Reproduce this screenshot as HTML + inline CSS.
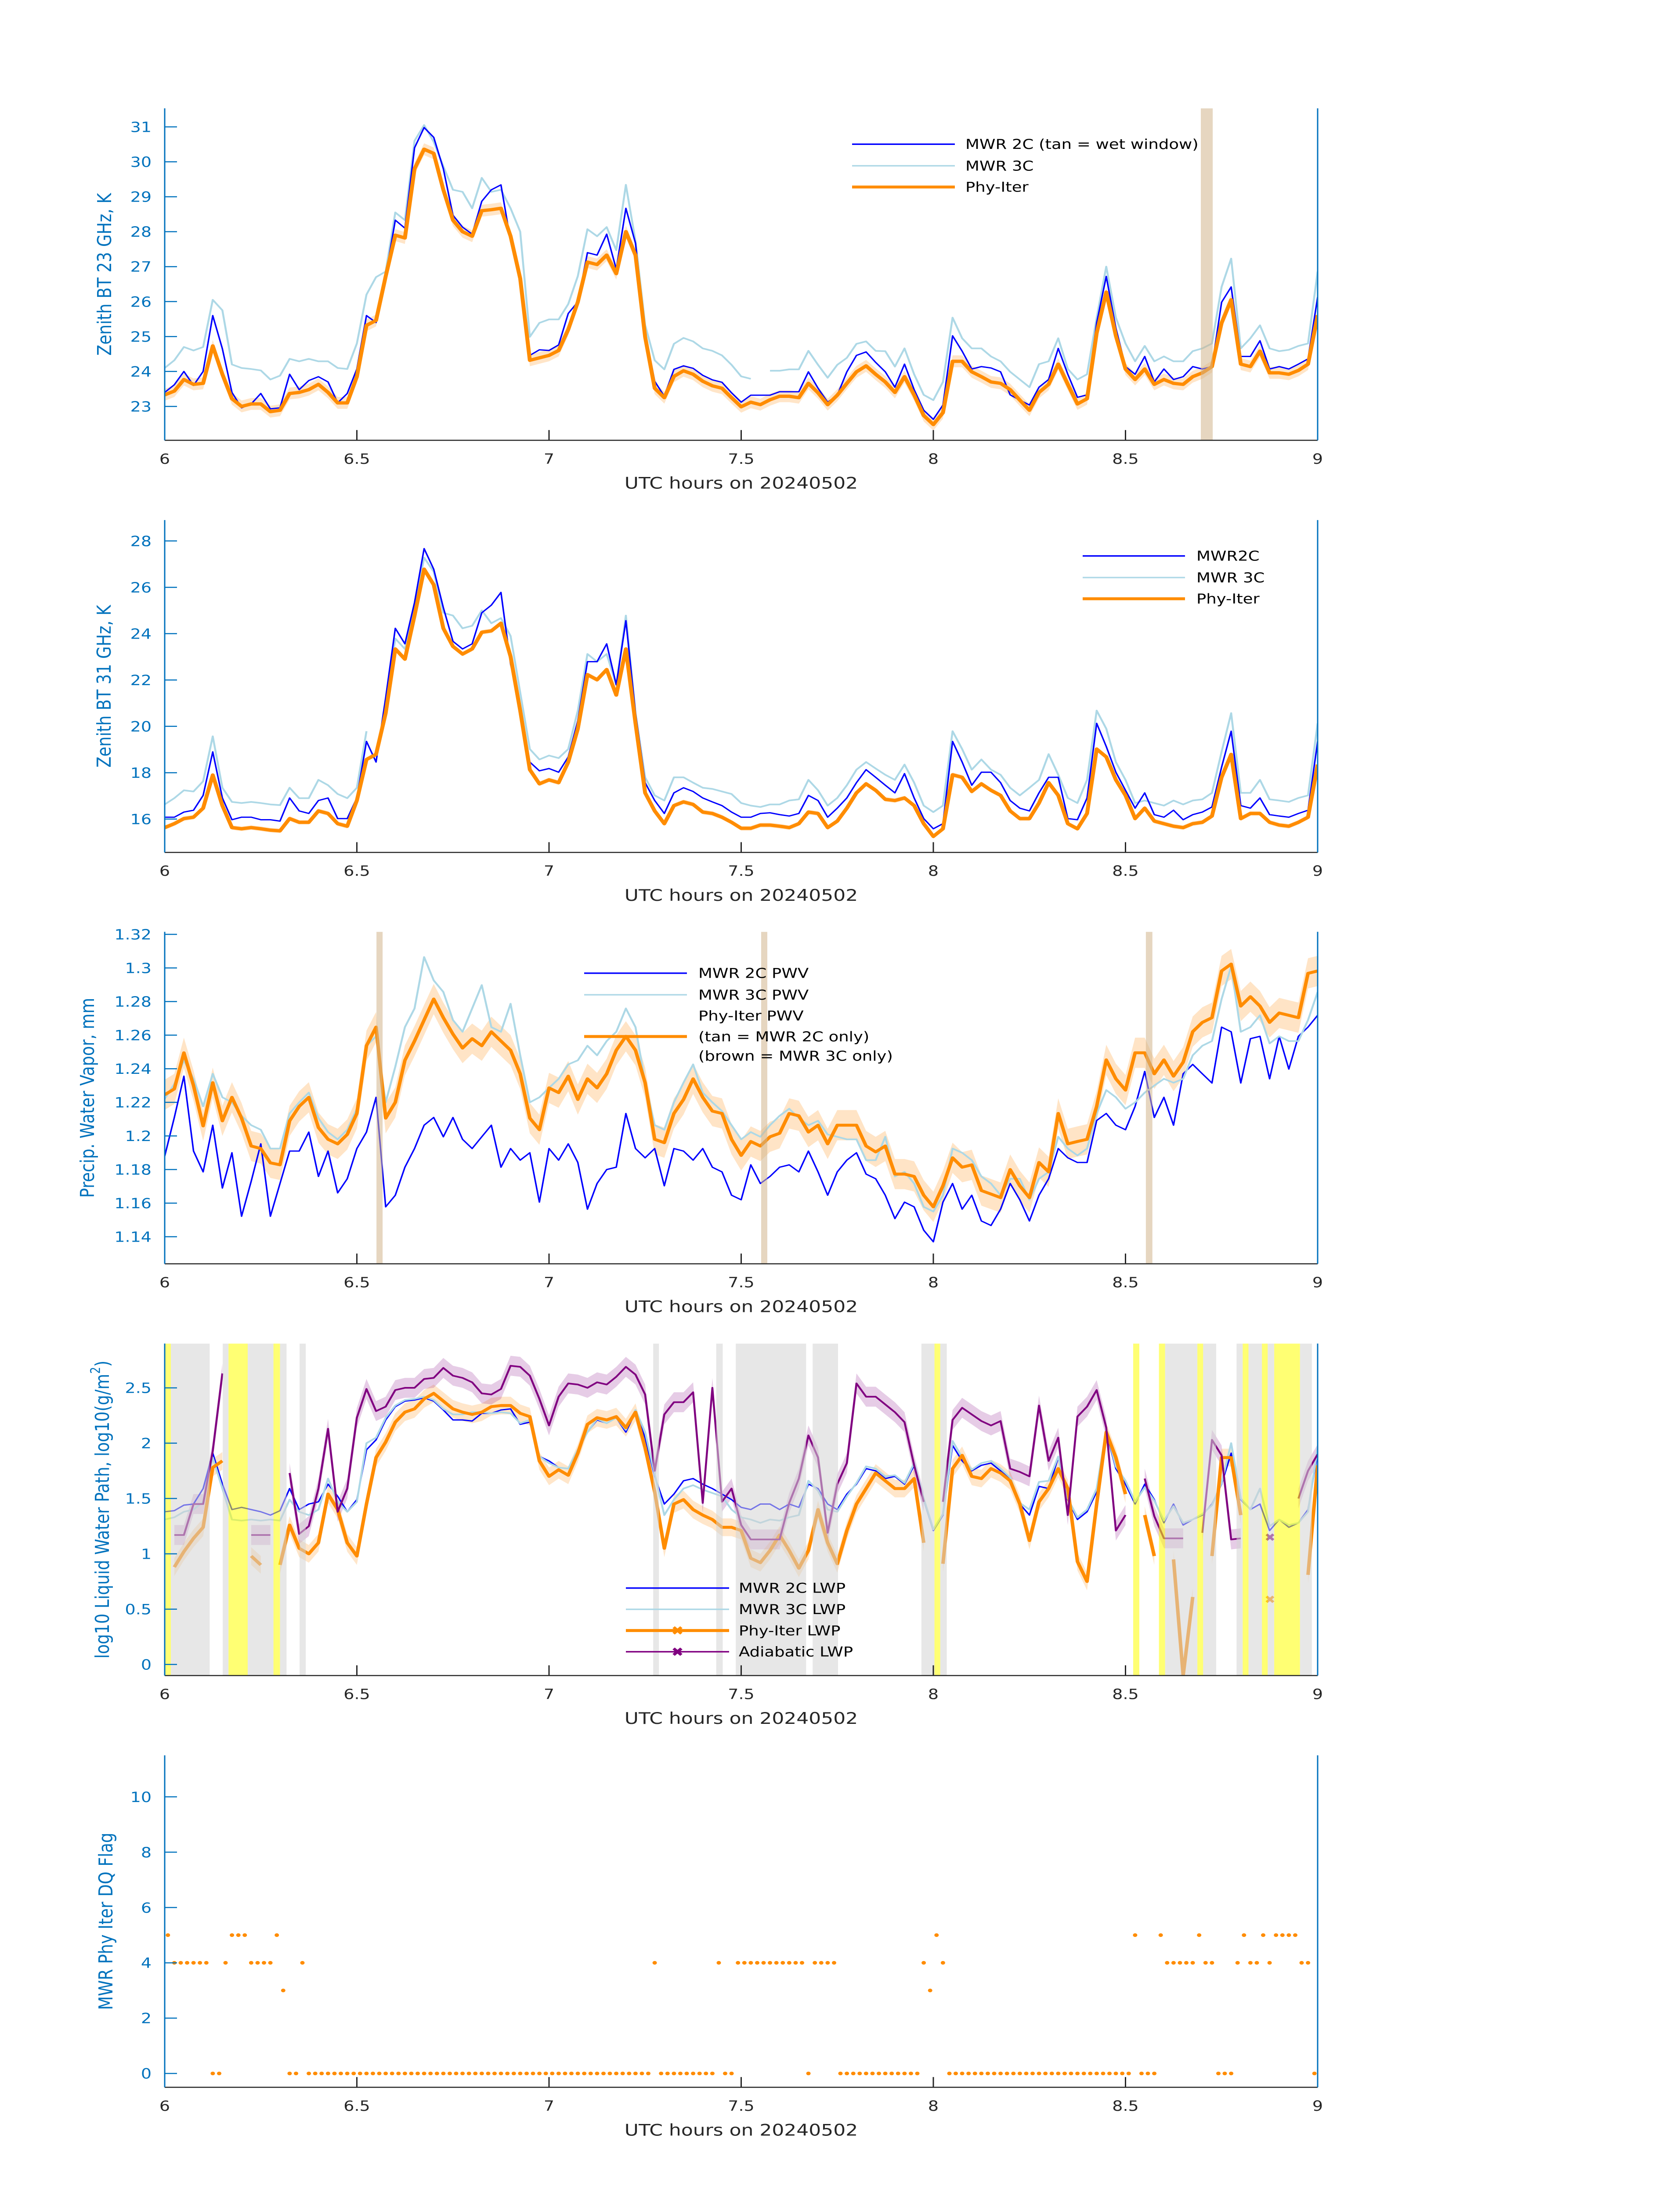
<!DOCTYPE html>
<html><head><meta charset="utf-8"><style>
html,body{margin:0;padding:0;background:#fff;width:100%;height:100%;overflow:hidden;}
svg{display:block;width:100vw;height:100vh;font-family:"DejaVu Sans","Liberation Sans",sans-serif;}
</style></head><body>
<svg id="fig" viewBox="0 0 3825 6000" preserveAspectRatio="none" xmlns="http://www.w3.org/2000/svg">
<rect width="3825" height="6000" fill="#fff"/>
<defs>
<clipPath id="c1"><rect x="375" y="296" width="2625" height="907"/></clipPath>
<clipPath id="c2"><rect x="375" y="1421" width="2625" height="908"/></clipPath>
<clipPath id="c3"><rect x="375" y="2546" width="2625" height="907"/></clipPath>
<clipPath id="c4"><rect x="375" y="3671" width="2625" height="907"/></clipPath>
<clipPath id="c5"><rect x="365" y="4796" width="2650" height="907"/></clipPath>
</defs>
<g id="root"></g>
</svg>
<script>
// ---- data: sample grid is 6.000 h + index*0.025 h (121 samples) ----
const t0 = 6.0;
const dt = 0.025;
const xTickLabels = ["6","6.5","7","7.5","8","8.5","9"];
const xTickValues = [6,6.5,7,7.5,8,8.5,9];

// Panel 1: 23 GHz BT (K)
const bt23Phy = [23.33,23.44,23.77,23.63,23.66,24.73,23.92,23.22,23.00,23.07,
23.07,22.85,22.89,23.37,23.40,23.48,23.63,23.40,23.10,23.10,
23.85,25.32,25.46,26.72,27.90,27.82,29.80,30.36,30.24,29.20,
28.33,28.00,27.87,28.60,28.63,28.67,27.87,26.66,24.32,24.39,
24.46,24.60,25.20,25.99,27.13,27.06,27.33,26.80,28.00,27.33,
24.99,23.52,23.25,23.86,24.02,23.92,23.72,23.59,23.52,23.25,
22.99,23.12,23.05,23.19,23.29,23.29,23.25,23.66,23.39,23.05,
23.32,23.66,23.99,24.16,23.92,23.70,23.40,23.85,23.33,22.74,
22.48,22.82,24.29,24.29,23.99,23.85,23.70,23.66,23.48,23.18,
22.89,23.40,23.63,24.21,23.63,23.07,23.22,25.10,26.27,25.02,
24.07,23.77,24.07,23.63,23.77,23.66,23.63,23.85,23.96,24.14,
25.39,26.05,24.21,24.14,24.58,23.96,23.96,23.92,24.03,24.21,25.61];
const bt23Mwr2c = [23.40,23.62,24.00,23.60,24.00,25.60,24.65,23.40,22.96,23.07,
23.37,22.93,22.96,23.92,23.48,23.74,23.85,23.70,23.10,23.37,
24.07,25.60,25.40,26.72,28.33,28.10,30.40,30.98,30.70,29.80,
28.47,28.13,27.93,28.87,29.20,29.34,27.73,26.66,24.46,24.62,
24.60,24.76,25.66,25.99,27.40,27.33,27.93,26.93,28.67,27.67,
25.13,23.72,23.29,24.06,24.16,24.09,23.89,23.76,23.69,23.39,
23.12,23.32,23.32,23.32,23.42,23.42,23.42,23.99,23.52,23.12,
23.32,23.99,24.46,24.56,24.26,23.99,23.55,24.21,23.48,22.89,
22.63,23.04,25.02,24.58,24.07,24.14,24.10,23.99,23.33,23.18,
23.04,23.55,23.77,24.66,23.92,23.26,23.33,25.39,26.72,25.24,
24.14,23.92,24.43,23.70,24.07,23.77,23.85,24.14,24.07,24.14,
25.98,26.42,24.43,24.43,24.88,24.07,24.14,24.07,24.21,24.36,26.13];
const bt23Mwr3c = [24.10,24.32,24.70,24.60,24.70,26.05,25.75,24.20,24.10,24.07,
24.03,23.77,23.88,24.36,24.29,24.36,24.29,24.29,24.10,24.07,
24.80,26.20,26.70,26.86,28.55,28.33,30.60,31.05,30.57,29.87,
29.20,29.14,28.67,29.54,29.14,29.20,28.67,28.00,24.99,25.39,
25.49,25.49,25.93,26.73,28.07,27.87,28.13,27.47,29.34,27.73,
25.33,24.32,24.06,24.79,24.96,24.86,24.66,24.59,24.46,24.19,
23.86,23.79,null,24.02,24.02,24.06,24.06,24.59,24.19,23.82,
24.19,24.39,24.79,24.86,24.59,24.58,24.14,24.66,23.92,23.33,
23.18,23.70,25.54,24.95,24.66,24.66,24.43,24.29,23.99,23.77,
23.55,24.21,24.29,24.95,24.07,23.77,23.92,25.54,27.00,25.54,
24.80,24.29,24.73,24.29,24.43,24.29,24.29,24.58,24.66,24.80,
26.42,27.23,24.66,24.95,25.32,24.66,24.58,24.62,24.73,24.80,26.86];

// Panel 2: 31 GHz BT (K)
const bt31Phy = [15.63,15.80,16.02,16.08,16.47,17.90,16.58,15.63,15.58,15.63,
15.58,15.52,15.49,16.02,15.86,15.86,16.35,16.24,15.80,15.69,
16.80,18.57,18.79,20.57,23.34,22.90,24.78,26.78,26.11,24.23,
23.45,23.12,23.34,24.06,24.12,24.45,23.01,20.68,18.13,17.52,
17.69,17.57,18.46,19.90,22.23,22.01,22.45,21.35,23.34,20.13,
17.13,16.35,15.80,16.58,16.74,16.63,16.30,16.24,16.08,15.86,
15.60,15.60,15.74,15.74,15.69,15.63,15.80,16.30,16.24,15.63,
15.91,16.47,17.13,17.52,17.24,16.85,16.80,16.91,16.58,15.80,
15.25,15.58,17.91,17.80,17.19,17.52,17.24,17.02,16.35,16.02,
16.02,16.69,17.57,17.02,15.80,15.58,16.24,19.02,18.68,17.69,
17.02,16.02,16.47,15.91,15.80,15.69,15.63,15.80,15.86,16.13,
17.80,18.79,16.02,16.24,16.24,15.86,15.74,15.69,15.86,16.08,18.35];
const bt31Mwr2c = [16.08,16.08,16.30,16.38,17.02,18.90,16.91,15.97,16.08,16.08,
15.97,15.97,15.91,16.91,16.35,16.24,16.80,16.91,16.02,16.02,
16.91,19.35,18.46,21.23,24.23,23.56,25.34,27.67,26.78,25.12,
23.67,23.34,23.56,24.90,25.23,25.78,22.68,20.90,18.46,18.08,
18.18,18.02,18.68,20.24,22.79,22.79,23.56,21.79,24.56,20.57,
17.57,16.80,16.24,17.13,17.35,17.19,16.91,16.74,16.58,16.30,
16.08,16.08,16.24,16.27,16.19,16.13,16.24,17.02,16.80,16.08,
16.47,16.91,17.57,18.13,17.80,17.46,17.13,17.96,16.91,16.02,
15.58,15.80,19.35,18.46,17.46,18.02,18.02,17.57,16.80,16.47,
16.35,17.13,17.80,17.80,16.02,15.97,16.91,20.13,19.13,18.02,
17.24,16.47,17.13,16.19,16.08,16.38,15.97,16.19,16.30,16.52,
18.24,19.79,16.58,16.47,16.91,16.19,16.13,16.08,16.24,16.38,19.35];
const bt31Mwr3c = [16.63,16.90,17.24,17.19,17.63,19.57,17.35,16.74,16.69,16.74,
16.69,16.63,16.60,17.35,16.90,16.90,17.69,17.46,17.08,16.90,
17.35,19.79,null,21.00,23.79,23.34,25.12,27.28,26.67,24.90,
24.78,24.23,24.34,25.00,24.45,24.67,23.90,21.46,19.02,18.57,
18.74,18.63,19.02,20.68,23.12,22.79,23.12,21.79,24.78,20.57,
17.80,17.02,16.80,17.80,17.80,17.57,17.35,17.30,17.19,17.08,
16.69,16.58,16.52,16.63,16.63,16.80,16.85,17.69,17.24,16.58,
16.91,17.46,18.13,18.46,18.18,17.91,17.69,18.35,17.57,16.58,
16.30,16.58,19.79,19.02,18.13,18.57,18.13,17.91,17.35,17.02,
17.35,17.69,18.80,17.91,16.91,16.69,17.69,20.68,19.90,18.46,
17.69,16.69,16.80,16.69,16.58,16.80,16.63,16.80,16.85,17.13,
18.90,20.57,17.13,17.13,17.69,16.85,16.80,16.74,16.91,17.02,20.13];

// Panel 3: precipitable water vapor
const pwvPhy = [1.2245,1.228,1.2495,1.230,1.206,1.2317,1.209,1.223,1.2106,1.194,
1.1925,1.184,1.1828,1.209,1.2176,1.223,1.205,1.198,1.1953,1.2009,
1.2134,1.2537,1.2648,1.2106,1.220,1.245,1.2565,1.269,1.2815,1.2704,
1.2606,1.2523,1.2579,1.2537,1.262,1.2565,1.251,1.237,1.2106,1.2037,
1.2286,1.2258,1.2356,1.2217,1.234,1.2286,1.237,1.251,1.2593,1.251,
1.2317,1.198,1.196,1.2134,1.2217,1.234,1.223,1.2148,1.2134,1.198,
1.1884,1.1967,1.194,1.1995,1.2016,1.2134,1.212,1.2023,1.2064,1.1953,
1.2064,1.2064,1.2064,1.194,1.1905,1.194,1.1773,1.1773,1.1759,1.1647,
1.1578,1.1703,1.187,1.1814,1.1828,1.1675,1.1654,1.1633,1.180,1.1703,
1.1633,1.1842,1.1786,1.2134,1.1953,1.1967,1.198,1.2176,1.2453,1.234,
1.2273,1.2495,1.2495,1.237,1.2453,1.2356,1.2439,1.2621,1.2676,1.2704,
1.2982,1.3023,1.2773,1.2829,1.2773,1.2676,1.2732,1.2718,1.2704,1.2968,1.2982];
const pwvMwr2c = [1.188,1.211,1.2356,1.191,1.1786,1.2064,1.169,1.190,1.1522,1.173,
1.1953,1.1522,1.1717,1.191,1.191,1.2023,1.1759,1.191,1.1661,1.1745,
1.1925,1.2023,1.223,1.1578,1.1647,1.1814,1.1925,1.2064,1.211,1.1995,
1.211,1.198,1.1925,1.1995,1.2064,1.1814,1.1925,1.1856,1.190,1.1606,
1.1925,1.1856,1.1953,1.1842,1.1564,1.1717,1.180,1.1814,1.2134,1.1925,
1.187,1.1925,1.1703,1.1925,1.191,1.1856,1.1925,1.1814,1.1786,1.1647,
1.162,1.1828,1.1717,1.1759,1.1814,1.1828,1.1786,1.191,1.1786,1.1647,
1.1786,1.1856,1.190,1.1773,1.1745,1.1647,1.1508,1.1606,1.1578,1.1439,
1.137,1.1606,1.1717,1.1564,1.1647,1.1494,1.1467,1.1564,1.1717,1.162,
1.1494,1.1647,1.1745,1.1925,1.187,1.1842,1.1842,1.2092,1.2134,1.2064,
1.2037,1.2176,1.2384,1.211,1.223,1.2064,1.237,1.2426,1.237,1.2315,
1.2648,1.262,1.2315,1.2579,1.2593,1.234,1.2593,1.2398,1.2593,1.2648,1.2718];
const pwvMwr3c = [1.222,1.231,1.245,1.234,1.2176,1.237,1.223,1.220,1.212,1.2064,
1.2037,1.1925,1.1925,1.2134,1.220,1.2258,1.2106,1.2023,1.198,1.2037,
1.2162,1.2537,1.2593,1.220,1.2412,1.2648,1.2759,1.3065,1.2926,1.2857,
1.269,1.262,1.2759,1.2898,1.2648,1.262,1.2787,1.248,1.220,1.223,
1.2286,1.234,1.2426,1.245,1.2537,1.248,1.2565,1.262,1.2759,1.2648,
1.2317,1.2064,1.2037,1.220,1.2317,1.2426,1.2258,1.220,1.2148,1.2064,
1.198,1.2023,1.1995,1.2064,1.212,1.2162,1.2106,1.2064,1.209,1.2009,
1.1995,1.198,1.198,1.1856,1.1856,1.1995,1.1759,1.1786,1.1717,1.1578,
1.155,1.1647,1.1925,1.190,1.1856,1.1759,1.1717,1.1647,1.1745,1.1745,
1.162,1.1745,1.1786,1.1995,1.1925,1.1884,1.1925,1.2134,1.2273,1.223,
1.2162,1.220,1.2258,1.230,1.234,1.2317,1.234,1.248,1.2537,1.2565,
1.2815,1.301,1.262,1.2648,1.2718,1.2551,1.2593,1.2565,1.2565,1.269,1.2857];

// Panel 4: log10 LWP
const lwpMwr2c = [1.38,1.39,1.44,1.45,1.59,1.91,1.63,1.40,1.42,1.40,
1.38,1.35,1.39,1.59,1.40,1.45,1.47,1.63,1.52,1.38,
1.49,1.94,2.03,2.21,2.33,2.38,2.39,2.41,2.38,2.30,
2.21,2.21,2.20,2.27,2.27,2.30,2.31,2.17,2.19,1.88,
1.84,1.78,1.77,1.94,2.10,2.21,2.18,2.23,2.10,2.28,
2.05,1.70,1.45,1.54,1.66,1.68,1.63,1.59,1.54,1.49,
1.42,1.40,1.45,1.45,1.40,1.45,1.42,1.63,1.59,1.45,
1.40,1.54,1.63,1.77,1.75,1.68,1.70,1.63,1.80,1.49,
1.21,1.35,1.98,1.84,1.75,1.80,1.82,1.75,1.68,1.45,
1.35,1.61,1.59,1.87,1.49,1.31,1.38,1.56,2.10,1.77,
1.63,1.45,1.63,1.49,1.28,1.45,1.26,1.31,1.35,1.45,
1.63,1.91,1.49,1.40,1.45,1.21,1.31,1.24,1.28,1.40,1.91];
const lwpMwr3c = [1.31,1.33,1.38,1.40,1.47,1.87,1.59,1.31,1.30,1.31,
1.30,1.31,1.30,1.49,1.38,1.35,1.40,1.68,1.47,1.38,
1.47,2.00,2.05,2.23,2.34,2.39,2.40,2.42,2.39,2.31,
2.26,2.26,2.28,2.28,2.27,2.28,2.27,2.18,2.21,1.88,
1.82,1.78,1.77,1.94,2.10,2.22,2.18,2.23,2.12,2.30,
2.10,1.72,1.35,1.49,1.59,1.62,1.58,1.55,1.52,1.40,
1.33,1.31,1.28,1.31,1.30,1.33,1.35,1.66,1.57,1.40,
1.38,1.52,1.64,1.79,1.77,1.70,1.71,1.64,1.82,1.50,
1.22,1.36,2.02,1.87,1.76,1.82,1.84,1.77,1.69,1.46,
1.40,1.65,1.66,1.88,1.50,1.33,1.40,1.59,2.12,1.79,
1.66,1.47,1.60,1.48,1.30,1.43,1.28,1.31,1.36,1.44,
1.64,2.00,1.50,1.40,1.59,1.25,1.31,1.26,1.28,1.38,1.96];
const lwpPhy = [null,0.88,1.02,1.14,1.24,1.78,1.84,null,null,0.98,
0.90,null,0.90,1.26,1.05,1.00,1.10,1.54,1.40,1.10,
0.98,1.45,1.87,2.01,2.19,2.28,2.31,2.40,2.45,2.38,
2.31,2.28,2.26,2.28,2.33,2.34,2.34,2.27,2.24,1.84,
1.70,1.76,1.71,1.91,2.17,2.23,2.21,2.24,2.14,2.28,
1.96,1.56,1.05,1.45,1.49,1.40,1.35,1.31,1.24,1.24,
1.21,0.96,0.92,1.03,1.17,1.03,0.87,1.03,1.40,1.10,
0.91,1.21,1.45,1.59,1.73,1.66,1.59,1.59,1.68,1.10,
null,0.91,1.77,1.89,1.70,1.68,1.77,1.73,1.66,1.45,
1.12,1.47,1.59,1.77,1.59,0.93,0.75,1.45,2.10,1.87,
1.54,null,1.35,0.98,null,0.95,-0.10,0.61,null,0.98,
1.87,1.87,1.35,null,1.26,null,null,null,null,0.81,1.80];
const lwpAdiabatic = [null,1.17,1.17,1.45,1.45,1.93,2.63,null,null,1.17,
1.17,1.17,null,1.73,1.18,1.25,1.59,2.13,1.38,1.59,
2.23,2.49,2.29,2.33,2.48,2.50,2.50,2.58,2.59,2.68,
2.61,2.59,2.55,2.45,2.44,2.49,2.70,2.69,2.61,2.40,
2.16,2.42,2.54,2.53,2.50,2.55,2.53,2.60,2.69,2.62,
2.44,1.75,2.26,2.37,2.37,2.46,1.46,2.50,1.47,1.59,
1.26,1.13,1.13,1.13,1.13,1.46,1.68,2.07,1.87,1.19,
1.63,1.82,2.54,2.42,2.42,2.35,2.28,2.19,1.80,1.47,
null,1.47,2.21,2.32,2.26,2.20,2.16,2.20,1.77,1.74,
1.70,2.34,1.84,2.05,1.35,2.24,2.33,2.48,2.14,1.21,
1.35,null,1.68,1.34,1.14,1.14,1.14,null,1.19,2.03,
1.89,1.13,1.14,null,null,null,null,null,1.50,1.75,1.90];
const lwpPhyMarker = [8.876, 0.59];
const lwpAdiabaticMarker = [8.876, 1.15];

// Panel 5: DQ flag per minute (minute i plotted at 6 h + (i+0.5) min)
const dqFlag = [5,4,4,4,4,4,4,0,0,4, 5,5,5,4,4,4,4,5,3,0,
0,4,0,0,0,0,0,0,0,0, 0,0,0,0,0,0,0,0,0,0,
0,0,0,0,0,0,0,0,0,0, 0,0,0,0,0,0,0,0,0,0,
0,0,0,0,0,0,0,0,0,0, 0,0,0,0,0,0,4,0,0,0,
0,0,0,0,0,0,4,0,0,4, 4,4,4,4,4,4,4,4,4,4,
0,4,4,4,4,0,0,0,0,0, 0,0,0,0,0,0,0,0,4,3,
5,4,0,0,0,0,0,0,0,0, 0,0,0,0,0,0,0,0,0,0,
0,0,0,0,0,0,0,0,0,0, 0,5,0,0,0,5,4,4,4,4,
4,5,4,4,0,0,0,4,5,4, 4,5,4,5,5,5,5,4,4,0];

// shaded windows (hours)
const bt23WetStart = [8.696];
const bt23WetEnd = [8.727];
const pwvTanStart = [6.551, 7.552, 8.553];
const pwvTanEnd = [6.567, 7.568, 8.570];
const lwpGrayStart = [6.016,6.151,6.216,6.300,6.351,7.271,7.435,7.486,7.686,7.969,8.018,8.603,8.702,8.789,8.820,8.870,8.954];
const lwpGrayEnd   = [6.117,6.166,6.283,6.317,6.367,7.286,7.452,7.669,7.752,8.003,8.035,8.687,8.736,8.805,8.855,8.887,8.985];
const lwpYellowStart = [6.000,6.166,6.283,8.003,8.520,8.587,8.687,8.805,8.855,8.887];
const lwpYellowEnd   = [6.016,6.216,6.300,8.018,8.536,8.603,8.702,8.820,8.870,8.954];

// ---- drawing ----
const NS = "http://www.w3.org/2000/svg";
const root = document.getElementById('root');
const X0 = 375, X1 = 3000;
function xs(t){ return X0 + (t - 6) * (X1 - X0) / 3; }
function mk(tag, attrs, parent){
  const e = document.createElementNS(NS, tag);
  for (const k in attrs) e.setAttribute(k, attrs[k]);
  (parent || root).appendChild(e);
  return e;
}
function makeY(p){ return v => p.bottom - (v - p.ymin) * (p.bottom - p.top) / (p.ymax - p.ymin); }
function tOf(i){ return t0 + i * dt; }

function linePath(vals, ys){
  let d = "", pen = false;
  vals.forEach((v, i) => {
    if (v === null) { pen = false; return; }
    d += (pen ? "L" : "M") + xs(tOf(i)).toFixed(1) + "," + ys(v).toFixed(1);
    pen = true;
  });
  return d;
}
function bandPath(vals, half, ys){
  let d = "", seg = [];
  const flush = () => {
    if (seg.length > 1) {
      let up = seg.map(([t,v]) => xs(t).toFixed(1) + "," + ys(v + half).toFixed(1));
      let dn = seg.slice().reverse().map(([t,v]) => xs(t).toFixed(1) + "," + ys(v - half).toFixed(1));
      d += "M" + up.join("L") + "L" + dn.join("L") + "Z";
    }
    seg = [];
  };
  vals.forEach((v, i) => { if (v === null) flush(); else seg.push([tOf(i), v]); });
  flush();
  return d;
}

function axes(p, name){
  const g = mk('g', {});
  
  
  const ys = makeY(p);
  const xa = mk('line', {x1: X0, y1: p.bottom, x2: X1, y2: p.bottom, stroke: '#262626', 'stroke-width': 3}, g);
  
  
  xTickValues.forEach((tv, i) => {
    const tk = mk('line', {x1: xs(tv), y1: p.bottom, x2: xs(tv), y2: p.bottom - 28, stroke: '#262626', 'stroke-width': 3}, g);
    
    
    const tl = mk('text', {x: xs(tv), y: p.bottom + 64, 'font-size': 38, fill: '#262626', 'text-anchor': 'middle'}, g);
    
    
    tl.textContent = xTickLabels[i];
  });
  const xt = mk('text', {x: (X0 + X1) / 2, y: p.bottom + 132, 'font-size': 44, fill: '#262626', 'text-anchor': 'middle'}, g);
  
  
  xt.textContent = 'UTC hours on 20240502';
  const ya = mk('line', {x1: X0, y1: p.top, x2: X0, y2: p.bottom, stroke: '#0072bd', 'stroke-width': 3}, g);
  
  
  const ra = mk('line', {x1: X1, y1: p.top, x2: X1, y2: p.bottom, stroke: '#0072bd', 'stroke-width': 3}, g);
  
  
  p.ticks.forEach((tv, i) => {
    const y = ys(tv);
    const tk = mk('line', {x1: X0, y1: y, x2: X0 + 28, y2: y, stroke: '#0072bd', 'stroke-width': 3}, g);
    
    
    const tl = mk('text', {x: X0 - 30, y: y + 14, 'font-size': 38, fill: '#0072bd', 'text-anchor': 'end'}, g);
    
    
    tl.textContent = p.tickLabels[i];
  });
  const cy = (p.top + p.bottom) / 2;
  const yt = mk('text', {x: p.labelX, y: cy, 'font-size': 44, fill: '#0072bd', 'text-anchor': 'middle', transform: 'rotate(-90 ' + p.labelX + ' ' + cy + ')', 'dominant-baseline': 'middle'}, g);
  
  
  if (p.labelSup) {
    yt.appendChild(document.createTextNode(p.label));
    const s = document.createElementNS(NS, 'tspan');
    s.setAttribute('baseline-shift', 'super'); s.setAttribute('font-size', '30');
    s.textContent = '2';
    yt.appendChild(s);
    yt.appendChild(document.createTextNode(')'));
  } else yt.textContent = p.label;
}

function spans(starts, ends, p, color, op, clip, name){
  const g = mk('g', {'clip-path': 'url(#' + clip + ')'});
  
  
  starts.forEach((s, i) => {
    const r = mk('rect', {x: xs(s), y: p.top, width: Math.max(1, xs(ends[i]) - xs(s)), height: p.bottom - p.top, fill: color, opacity: op}, g);
    
    
  });
}
function series(vals, p, color, w, clip, name){
  const ys = makeY(p);
  const e = mk('path', {d: linePath(vals, ys), fill: 'none', stroke: color, 'stroke-width': w, 'stroke-linejoin': 'round', 'clip-path': 'url(#' + clip + ')'});
  
  
}
function band(vals, half, p, color, op, clip, name){
  const ys = makeY(p);
  const e = mk('path', {d: bandPath(vals, half, ys), fill: color, opacity: op, stroke: 'none', 'clip-path': 'url(#' + clip + ')'});
  
  
}
function legend(items, x1, x2, tx, name){
  const g = mk('g', {});
  
  
  items.forEach(it => {
    if (it.color) {
      const l = mk('line', {x1: x1, y1: it.y, x2: x2, y2: it.y, stroke: it.color, 'stroke-width': it.w}, g);
      
      
      if (it.marker) {
        const m = mk('text', {x: (x1 + x2) / 2, y: it.y + 12, 'font-size': 34, 'font-weight': 'bold', fill: it.color, 'text-anchor': 'middle'}, g);
        
        
        m.textContent = '✖';
      }
    }
    const t = mk('text', {x: tx, y: it.y + 13, 'font-size': 37, fill: '#000'}, g);
    
    
    t.textContent = it.text;
  });
}

const BLUE = '#0000ff', LB = '#add8e6', OR = '#ff8c00', PUR = '#800080';

// Panel 1
const P1 = {top: 296, bottom: 1203, ymin: 22.03, ymax: 31.53, ticks: [23,24,25,26,27,28,29,30,31], tickLabels: ["23","24","25","26","27","28","29","30","31"], labelX: 241, label: 'Zenith BT 23 GHz, K'};
band(bt23Phy, 0.17, P1, '#ffe2c2', 0.9, 'c1', 'bt23-phy-iter-band');
series(bt23Mwr3c, P1, LB, 4.5, 'c1', 'bt23-mwr3c-line');
series(bt23Mwr2c, P1, BLUE, 3.5, 'c1', 'bt23-mwr2c-line');
series(bt23Phy, P1, OR, 9, 'c1', 'bt23-phy-iter-line');
spans(bt23WetStart, bt23WetEnd, P1, '#d2b48c', 0.55, 'c1', 'bt23-wet-window');
axes(P1, 'bt23');
legend([{y: 394, color: BLUE, w: 4, text: 'MWR 2C (tan = wet window)'}, {y: 453, color: LB, w: 4, text: 'MWR 3C'}, {y: 511, color: OR, w: 8, text: 'Phy-Iter'}], 1940, 2174, 2198, 'bt23-legend');

// Panel 2
const P2 = {top: 1421, bottom: 2329, ymin: 14.56, ymax: 28.9, ticks: [16,18,20,22,24,26,28], tickLabels: ["16","18","20","22","24","26","28"], labelX: 240, label: 'Zenith BT 31 GHz, K'};
band(bt31Phy, 0.1, P2, '#ffe2c2', 0.9, 'c2', 'bt31-phy-iter-band');
series(bt31Mwr3c, P2, LB, 4.5, 'c2', 'bt31-mwr3c-line');
series(bt31Mwr2c, P2, BLUE, 3.5, 'c2', 'bt31-mwr2c-line');
series(bt31Phy, P2, OR, 9, 'c2', 'bt31-phy-iter-line');
axes(P2, 'bt31');
legend([{y: 1519, color: BLUE, w: 4, text: 'MWR2C'}, {y: 1578, color: LB, w: 4, text: 'MWR 3C'}, {y: 1636, color: OR, w: 8, text: 'Phy-Iter'}], 2465, 2698, 2724, 'bt31-legend');

// Panel 3
const P3 = {top: 2546, bottom: 3453, ymin: 1.1239, ymax: 1.3215, ticks: [1.14,1.16,1.18,1.2,1.22,1.24,1.26,1.28,1.3,1.32], tickLabels: ["1.14","1.16","1.18","1.2","1.22","1.24","1.26","1.28","1.3","1.32"], labelX: 202, label: 'Precip. Water Vapor, mm'};
band(pwvPhy, 0.009, P3, '#ffddb8', 0.8, 'c3', 'pwv-phy-iter-band');
series(pwvMwr2c, P3, BLUE, 3.5, 'c3', 'pwv-mwr2c-line');
series(pwvMwr3c, P3, LB, 4.5, 'c3', 'pwv-mwr3c-line');
series(pwvPhy, P3, OR, 8, 'c3', 'pwv-phy-iter-line');
spans(pwvTanStart, pwvTanEnd, P3, '#d2b48c', 0.55, 'c3', 'pwv-tan-window');
axes(P3, 'pwv');
legend([{y: 2659, color: BLUE, w: 4, text: 'MWR 2C PWV'}, {y: 2718, color: LB, w: 4, text: 'MWR 3C PWV'}, {y: 2775, text: 'Phy-Iter PWV'}, {y: 2832, color: OR, w: 8, text: '(tan = MWR 2C only)'}, {y: 2885, text: '(brown = MWR 3C only)'}], 1330, 1564, 1590, 'pwv-legend');

// Panel 4
const P4 = {top: 3671, bottom: 4578, ymin: -0.1, ymax: 2.9, ticks: [0,0.5,1,1.5,2,2.5], tickLabels: ["0","0.5","1","1.5","2","2.5"], labelX: 236, label: 'log10 Liquid Water Path, log10(g/m', labelSup: true};
band(lwpPhy, 0.08, P4, '#ffddb8', 0.75, 'c4', 'lwp-phy-iter-band');
band(lwpAdiabatic, 0.09, P4, '#800080', 0.2, 'c4', 'lwp-adiabatic-band');
series(lwpMwr2c, P4, BLUE, 3.5, 'c4', 'lwp-mwr2c-line');
series(lwpMwr3c, P4, LB, 4.5, 'c4', 'lwp-mwr3c-line');
series(lwpPhy, P4, OR, 8, 'c4', 'lwp-phy-iter-line');
series(lwpAdiabatic, P4, PUR, 4.5, 'c4', 'lwp-adiabatic-line');
(function(){
  const ys = makeY(P4);
  const m1 = mk('text', {x: xs(lwpPhyMarker[0]), y: ys(lwpPhyMarker[1]) + 11, 'font-size': 30, 'font-weight': 'bold', fill: OR, 'text-anchor': 'middle'});
  
  
  m1.textContent = '✖';
  const m2 = mk('text', {x: xs(lwpAdiabaticMarker[0]), y: ys(lwpAdiabaticMarker[1]) + 11, 'font-size': 30, 'font-weight': 'bold', fill: PUR, 'text-anchor': 'middle'});
  
  
  m2.textContent = '✖';
})();
spans(lwpGrayStart, lwpGrayEnd, P4, '#d4d4d4', 0.55, 'c4', 'lwp-gray-window');
spans(lwpYellowStart, lwpYellowEnd, P4, '#ffff00', 0.55, 'c4', 'lwp-yellow-window');
axes(P4, 'lwp');
legend([{y: 4339, color: BLUE, w: 4, text: 'MWR 2C LWP'}, {y: 4397, color: LB, w: 4, text: 'MWR 3C LWP'}, {y: 4455, color: OR, w: 8, marker: true, text: 'Phy-Iter LWP'}, {y: 4513, color: PUR, w: 4, marker: true, text: 'Adiabatic LWP'}], 1425, 1660, 1682, 'lwp-legend');

// Panel 5
const P5 = {top: 4796, bottom: 5703, ymin: -0.5, ymax: 11.5, ticks: [0,2,4,6,8,10], tickLabels: ["0","2","4","6","8","10"], labelX: 244, label: 'MWR Phy Iter DQ Flag'};
(function(){
  const ys = makeY(P5);
  const g = mk('g', {'clip-path': 'url(#c5)'});
  
  
  dqFlag.forEach((v, i) => {
    if (v === null) return;
    const c = mk('circle', {cx: xs(6 + (i + 0.5) / 60).toFixed(1), cy: ys(v).toFixed(1), r: 5, fill: OR}, g);
    
    
  });
})();
axes(P5, 'dq');
</script>
</body></html>
